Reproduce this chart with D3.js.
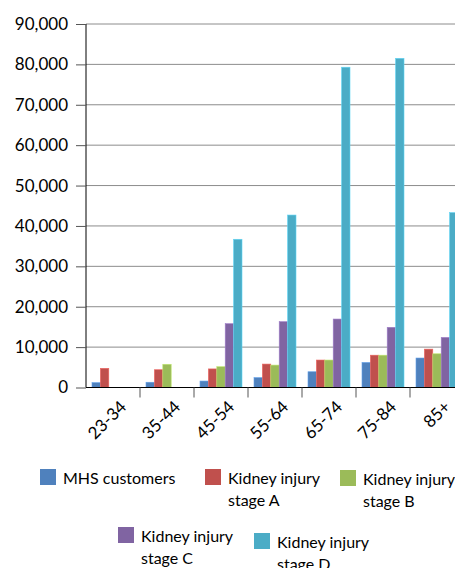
<!DOCTYPE html>
<html lang="en">
<head>
    <meta charset="UTF-8">
    <title>Kidney injury by age</title>
    <script src="https://cdn.jsdelivr.net/npm/d3@7"></script>
    <style>
        body { margin: 0; background: #fff; }
        svg { display: block; font-family: Lato, "Open Sans", sans-serif; }
    </style>
</head>
<body>
<svg width="455" height="568"></svg>
<script>
    const ageGroups = ["23-34", "35-44", "45-54", "55-64", "65-74", "75-84", "85+"]
    const seriesNames = ["MHS customers", "Kidney injury stage A", "Kidney injury stage B",
        "Kidney injury stage C", "Kidney injury stage D"]
    const mhsCustomers = [1200, 1300, 1600, 2450, 3900, 6200, 7300]
    const stageA = [4750, 4400, 4600, 5800, 6800, 8000, 9500]
    const stageB = [0, 5750, 5150, 5550, 6800, 8000, 8350]
    const stageC = [0, 0, 15800, 16300, 16950, 14900, 12400]
    const stageD = [0, 0, 36700, 42700, 79300, 81500, 43300]
    const yTicks = [0, 10000, 20000, 30000, 40000, 50000, 60000, 70000, 80000, 90000]
    const colors = ["#4F81BD", "#C0504D", "#9BBB59", "#8064A2", "#4BACC6"]

    const series = [mhsCustomers, stageA, stageB, stageC, stageD]

    const svg = d3.select("svg")
    const plotLeft = 86, plotTop = 24, plotBottom = 387.5
    const bandW = 54

    const x = d3.scaleBand()
        .domain(ageGroups)
        .range([plotLeft, plotLeft + bandW * ageGroups.length])
    // bar slots inside each age group
    const xs = d3.scaleBand().domain(d3.range(series.length)).range([6, bandW - 6])

    const y = d3.scaleLinear().domain([0, 90000]).range([plotBottom, plotTop])

    // gridlines
    svg.append("g")
        .selectAll("line")
        .data(yTicks.slice(1))
        .join("line")
        .attr("x1", plotLeft).attr("x2", 455)
        .attr("y1", d => y(d)).attr("y2", d => y(d))
        .attr("stroke", "#8c8c8c")
        .attr("stroke-width", 1)

    // bars
    const groups = svg.append("g")
        .selectAll("g")
        .data(ageGroups)
        .join("g")
        .attr("transform", d => `translate(${x(d)},0)`)

    groups.selectAll("rect")
        .data((d, i) => series.map((s, k) => ({k: k, v: s[i]})).filter(d => d.v > 0))
        .join("rect")
        .attr("x", d => xs(d.k))
        .attr("width", xs.bandwidth())
        .attr("y", d => y(d.v))
        .attr("height", d => y(0) - y(d.v))
        .attr("fill", d => colors[d.k])
        .attr("stroke", d => d3.color(colors[d.k]).brighter(0.6))
        .attr("stroke-width", 0.6)

    // y axis
    const yAxis = svg.append("g")
        .attr("transform", `translate(${plotLeft},0)`)
        .call(d3.axisLeft(y).tickValues(yTicks).tickFormat(d3.format(",")).tickSize(10).tickPadding(8))
    yAxis.select(".domain").attr("stroke", "#000").attr("d", `M0,${plotTop}V${plotBottom}`)
    yAxis.selectAll(".tick line").attr("stroke", "#555")
    yAxis.selectAll("text").attr("font-size", 17).attr("fill", "#000")
        .attr("font-family", "Lato, sans-serif")

    // x axis
    const xAxis = svg.append("g")
        .attr("transform", `translate(0,${plotBottom})`)
    xAxis.append("line")
        .attr("x1", plotLeft).attr("x2", 455)
        .attr("stroke", "#000")
    xAxis.selectAll(".xt")
        .data(ageGroups)
        .join("line")
        .attr("class", "xt")
        .attr("x1", d => x(d) + bandW)
        .attr("x2", d => x(d) + bandW)
        .attr("y1", 0).attr("y2", 10)
        .attr("stroke", "#555")
    xAxis.selectAll("text")
        .data(ageGroups)
        .join("text")
        .attr("transform", d => `translate(${x(d) + bandW / 2 + 6},${12}) rotate(-45)`)
        .attr("text-anchor", "end")
        .attr("dy", "0.7em")
        .attr("font-size", 17)
        .text(d => d)

    // legend
    const legendPos = [
        [40, 469], [205, 469], [340, 470],
        [118, 527], [254, 533]
    ]
    const legend = svg.append("g")
        .selectAll("g")
        .data(seriesNames)
        .join("g")
        .attr("transform", (d, i) => `translate(${legendPos[i][0]},${legendPos[i][1]})`)
    legend.append("rect")
        .attr("width", 16).attr("height", 16)
        .attr("fill", (d, i) => colors[i])
    legend.append("text")
        .attr("x", 23)
        .attr("font-size", 16)
        .each(function (d) {
            const t = d3.select(this)
            const lines = d === "MHS customers" ? [d] : ["Kidney injury", d.replace("Kidney injury ", "")]
            lines.forEach((l, j) => t.append("tspan").attr("x", 23).attr("y", 15 + j * 22).text(l))
        })
</script>
</body>
</html>
